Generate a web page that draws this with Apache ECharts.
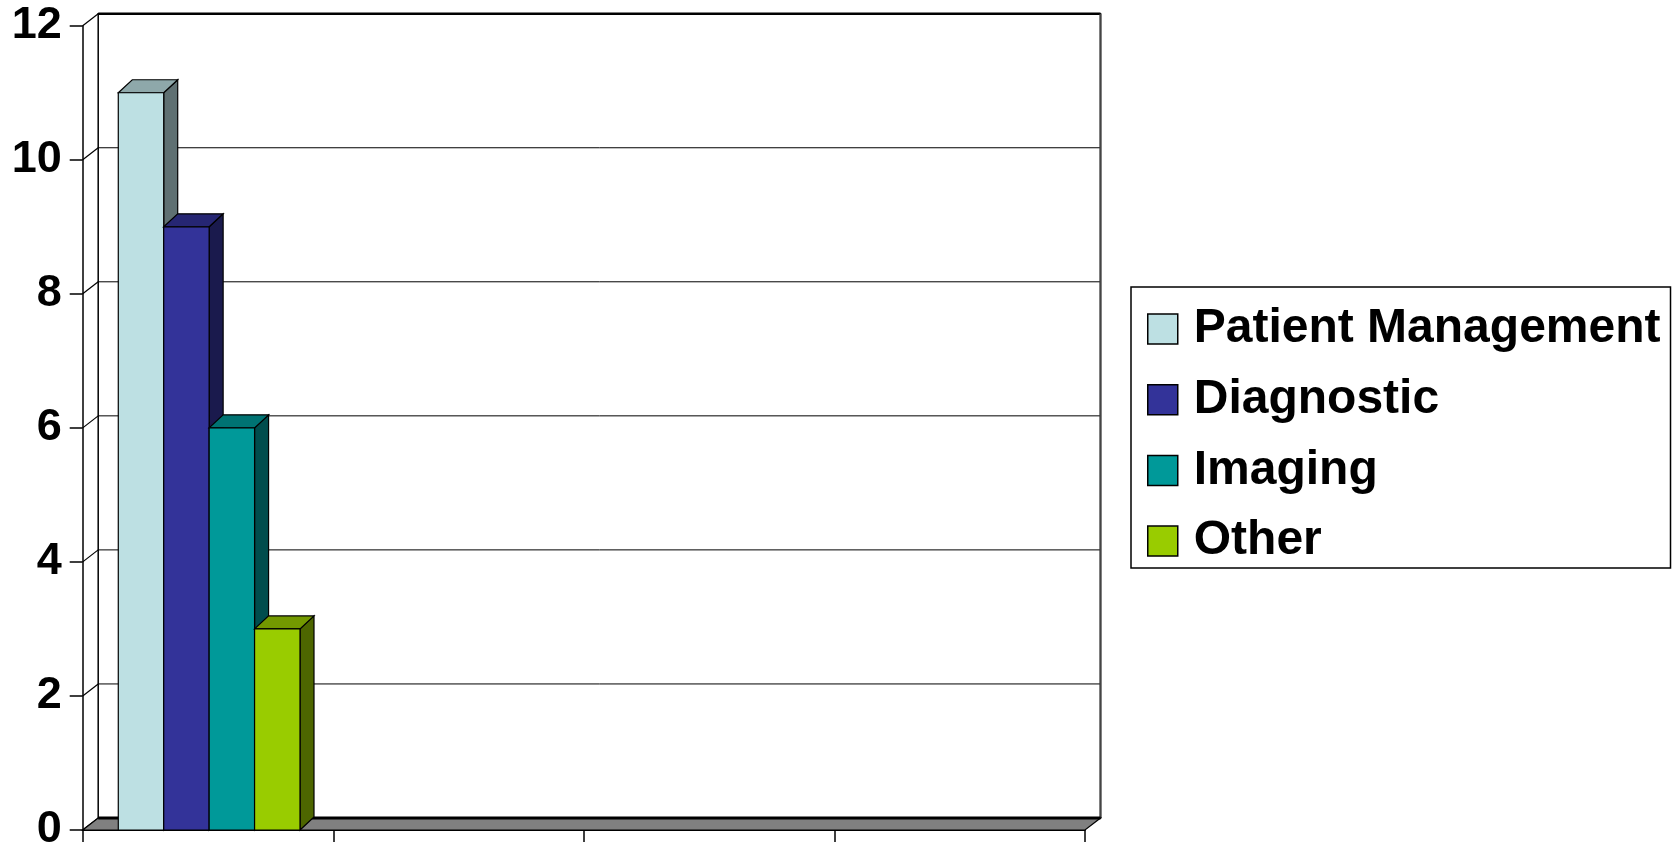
<!DOCTYPE html>
<html><head><meta charset="utf-8">
<script src="https://cdn.jsdelivr.net/npm/echarts@6/dist/echarts.min.js"></script>
<style>html,body{margin:0;padding:0;background:#fff}#chart{width:1677px;height:847px}</style>
</head><body><div id="chart"></div>
<script>
// ---- data ----
const categories = ['Group 1', 'Group 2', 'Group 3', 'Group 4'];
const seriesNames = ['Patient Management', 'Diagnostic', 'Imaging', 'Other'];
const patientManagement = [11, null, null, null];
const diagnostic = [9, null, null, null];
const imaging = [6, null, null, null];
const other = [3, null, null, null];
const yTicks = [0, 2, 4, 6, 8, 10, 12];

const seriesValues = [patientManagement, diagnostic, imaging, other];
const colors = ['#BDE0E3', '#333399', '#009999', '#99CC00'];

function shade(hex, f) {
  const n = parseInt(hex.slice(1), 16);
  const r = Math.round(((n >> 16) & 255) * f), g = Math.round(((n >> 8) & 255) * f), b = Math.round((n & 255) * f);
  return 'rgb(' + r + ',' + g + ',' + b + ')';
}

const BAR_START = 0.142, BAR_W = 0.1813, BDX = 14, BDY = 13;
function barRenderer(si, color) {
  return function (params, api) {
    const cat = api.value(0), val = api.value(1);
    const base = api.coord([cat, 0]);
    const top = api.coord([cat, val]);
    const band = api.size([1, 0])[0];
    const w = band * BAR_W;
    const x0 = base[0] - band / 2 + band * BAR_START + si * w;
    const yb = base[1], yt = top[1];
    const st = { stroke: '#000', lineWidth: 1.2 };
    return {
      type: 'group', children: [
        { type: 'polygon', shape: { points: [[x0 + w, yt], [x0 + w + BDX, yt - BDY], [x0 + w + BDX, yb - BDY], [x0 + w, yb]] },
          style: Object.assign({ fill: shade(color, 0.5) }, st) },
        { type: 'polygon', shape: { points: [[x0, yt], [x0 + BDX, yt - BDY], [x0 + w + BDX, yt - BDY], [x0 + w, yt]] },
          style: Object.assign({ fill: shade(color, 0.75) }, st) },
        { type: 'rect', shape: { x: x0, y: yt, width: w, height: yb - yt },
          style: Object.assign({ fill: color }, st) }
      ]
    };
  };
}

const WDX = 15.5, WDY = 12;
function wallRenderer(params, api) {
  const cs = params.coordSys;
  const L = cs.x, R = cs.x + cs.width, T = cs.y, B = cs.y + cs.height;
  const ch = [];
  ch.push({ type: 'rect', shape: { x: L + WDX, y: T - WDY, width: cs.width, height: cs.height },
    style: { fill: '#fff', stroke: '#000', lineWidth: 1.5 } });
  yTicks.forEach(function (v) {
    const y = api.coord([0, v])[1];
    if (v > 0 && v < 12) {
      ch.push({ type: 'line', shape: { x1: L + WDX, y1: y - WDY, x2: R + WDX, y2: y - WDY }, style: { stroke: '#000', lineWidth: 1 } });
    }
    ch.push({ type: 'line', shape: { x1: L, y1: y, x2: L + WDX, y2: y - WDY }, style: { stroke: '#000', lineWidth: 1.2 } });
  });
  ch.push({ type: 'line', shape: { x1: L + WDX, y1: T - WDY, x2: R + WDX, y2: T - WDY }, style: { stroke: '#000', lineWidth: 2.5 } });
  ch.push({ type: 'line', shape: { x1: R + WDX, y1: T - WDY, x2: R + WDX, y2: B - WDY }, style: { stroke: '#444', lineWidth: 2 } });
  ch.push({ type: 'polygon', shape: { points: [[L, B], [R, B], [R + WDX, B - WDY], [L + WDX, B - WDY]] },
    style: { fill: '#808080', stroke: '#000', lineWidth: 1.2 } });
  ch.push({ type: 'line', shape: { x1: L + WDX, y1: B - WDY, x2: R + WDX, y2: B - WDY }, style: { stroke: '#000', lineWidth: 3 } });
  return { type: 'group', children: ch };
}

const series = [{
  type: 'custom', name: '_walls', z: 1, silent: true,
  data: [[0, 0]], encode: { x: 0, y: 1 }, renderItem: wallRenderer
}];
seriesValues.forEach(function (arr, si) {
  series.push({
    type: 'custom', name: seriesNames[si], z: 3,
    itemStyle: { color: colors[si], borderColor: '#000', borderWidth: 1 },
    encode: { x: 0, y: 1 },
    data: arr.map(function (v, i) { return v == null ? null : [i, v]; }).filter(Boolean),
    renderItem: barRenderer(si, colors[si])
  });
});

const chart = echarts.init(document.getElementById('chart'), null, { renderer: 'canvas' });
chart.setOption({
  animation: false,
  backgroundColor: '#fff',
  grid: { left: 82.7, right: 592, top: 25.7, bottom: 17, containLabel: false, outerBoundsMode: 'none' },
  xAxis: {
    type: 'category', data: categories, boundaryGap: true,
    axisLine: { show: true, lineStyle: { color: '#000', width: 1.2 } },
    axisTick: { show: true, length: 12, interval: 0, lineStyle: { color: '#000', width: 1.5 } },
    axisLabel: { show: false }, splitLine: { show: false }
  },
  yAxis: {
    type: 'value', min: yTicks[0], max: yTicks[yTicks.length - 1], interval: 2,
    axisLine: { show: true, lineStyle: { color: '#000', width: 1.5 } },
    axisTick: { show: true, length: 13, lineStyle: { color: '#000', width: 1.5 } },
    axisLabel: { color: '#000', fontSize: 45, fontWeight: 'bold', fontFamily: 'Liberation Sans, Arial, sans-serif', margin: 21,
      formatter: function (v) { return String(v); } },
    splitLine: { show: false }
  },
  legend: {
    orient: 'vertical', left: 1131, top: 287, data: seriesNames,
    backgroundColor: '#fff', borderColor: '#000', borderWidth: 1.5,
    padding: [17, 10, 2, 16], itemGap: 20.7, itemWidth: 30, itemHeight: 30,
    icon: 'rect', selectedMode: false,
    itemStyle: { borderColor: '#000', borderWidth: 1.5 },
    textStyle: { fontSize: 48, fontWeight: 'bold', fontFamily: 'Liberation Sans, Arial, sans-serif', color: '#000', lineHeight: 50,
      padding: [0, 0, 0, 11] }
  },
  series: series
});
</script></body></html>
